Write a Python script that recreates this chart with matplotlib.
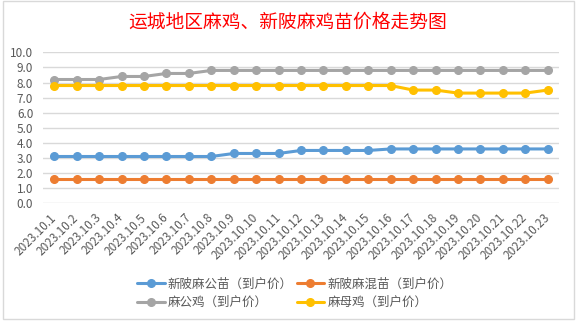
from matplotlib import pyplot as plt
from matplotlib.patches import Rectangle
import numpy as np

plt.rcParams['font.family'] = ['Noto Sans CJK SC', 'DejaVu Sans']

dates = ['2023.10.' + str(d) for d in range(1, 24)]

gongmiao = [3.1, 3.1, 3.1, 3.1, 3.1, 3.1, 3.1, 3.1, 3.3, 3.3, 3.3, 3.5,
            3.5, 3.5, 3.5, 3.6, 3.6, 3.6, 3.6, 3.6, 3.6, 3.6, 3.6]
hunmiao = [1.6] * 23
gongji = [8.2, 8.2, 8.2, 8.4, 8.4, 8.6, 8.6, 8.8, 8.8, 8.8, 8.8, 8.8,
          8.8, 8.8, 8.8, 8.8, 8.8, 8.8, 8.8, 8.8, 8.8, 8.8, 8.8]
muji = [7.8, 7.8, 7.8, 7.8, 7.8, 7.8, 7.8, 7.8, 7.8, 7.8, 7.8, 7.8,
        7.8, 7.8, 7.8, 7.8, 7.5, 7.5, 7.3, 7.3, 7.3, 7.3, 7.5]

labels = ['新陂麻公苗（到户价）', '新陂麻混苗（到户价）', '麻公鸡（到户价）', '麻母鸡（到户价）']
colors = ['#5B9BD5', '#ED7D31', '#A5A5A5', '#FFC000']

fig = plt.figure(figsize=(5.78, 3.23), dpi=100)
ax = fig.add_axes([0.0744, 0.3706, 0.8926, 0.4674])

x = np.arange(len(dates))
lines = []
for vals, lab, col in zip([gongmiao, hunmiao, gongji, muji], labels, colors):
    ln, = ax.plot(x, vals, color=col, lw=2.2, marker='o', ms=5.5, label=lab,
                  solid_capstyle='round')
    lines.append(ln)

ax.set_xlim(-0.5, len(dates) - 0.5)
ax.set_ylim(0, 10)
ax.set_yticks(np.arange(0, 10.1, 1.0))
ax.set_yticklabels(['%.1f' % v for v in np.arange(0, 10.1, 1.0)])
ax.yaxis.grid(True, color='#D9D9D9', lw=1)
ax.set_axisbelow(True)
for s in ax.spines.values():
    s.set_visible(False)
ax.tick_params(axis='both', length=0, colors='#595959', labelsize=8.5)
ax.tick_params(axis='y', pad=7)
ax.set_xticks(x)
ax.set_xticklabels(dates, rotation=45, ha='right', va='center',
                   rotation_mode='anchor', fontsize=8.5)
ax.tick_params(axis='x', pad=9)

fig.text(0.498, 0.93, '运城地区麻鸡、新陂麻鸡苗价格走势图', color='red',
         fontsize=13.5, ha='center', va='center')

order = [0, 2, 1, 3]
fig.legend([lines[i] for i in order], [labels[i] for i in order], ncol=2,
           loc='center', bbox_to_anchor=(0.51, 0.092), frameon=False,
           fontsize=9, handlelength=2.2, handletextpad=0.25, columnspacing=0.3,
           labelspacing=0.45, labelcolor='#595959')

fig.patches.append(Rectangle((3 / 578, 4 / 323), 571 / 578, 318 / 323,
                             transform=fig.transFigure, fill=False,
                             edgecolor='#D9D9D9', lw=1))

fig.savefig('out.png', dpi=100)
